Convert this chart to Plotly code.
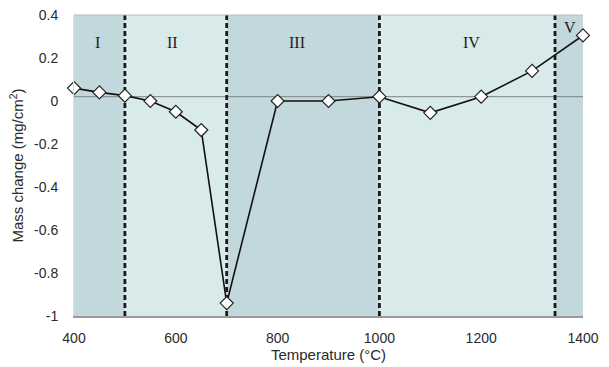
import plotly.graph_objects as go

# Measured mass change vs. temperature
temperature = [400, 450, 500, 550, 600, 650, 700, 800, 900, 1000, 1100, 1200, 1300, 1400]
mass_change = [0.06, 0.04, 0.025, 0.0, -0.05, -0.135, -0.94, 0.0, 0.0, 0.02, -0.055, 0.02, 0.14, 0.305]

# Stage boundaries and labels
stage_edges = [400, 500, 700, 1000, 1345, 1400]
stage_names = ["I", "II", "III", "IV", "V"]
stage_colors = ["#c2d8dc", "#d9eaeb", "#c2d8dc", "#d9eaeb", "#c2d8dc"]
stage_label_x = [447, 594, 838, 1180, 1374]
stage_label_y = [0.27, 0.27, 0.27, 0.27, 0.34]
boundaries = [500, 700, 1000, 1345]
reference_level = 0.02

fig = go.Figure()

shapes = []
for i, name in enumerate(stage_names):
    shapes.append(dict(type="rect", xref="x", yref="paper",
                       x0=stage_edges[i], x1=stage_edges[i + 1], y0=0, y1=1,
                       fillcolor=stage_colors[i], line_width=0, layer="below"))
shapes.append(dict(type="line", xref="paper", yref="y", x0=0, x1=1,
                   y0=reference_level, y1=reference_level,
                   line=dict(color="#7a8585", width=1), layer="below"))
for b in boundaries:
    shapes.append(dict(type="line", xref="x", yref="paper", x0=b, x1=b, y0=0, y1=1,
                       line=dict(color="#1a1a1a", width=2.8, dash="5px,3px"), layer="below"))
# top border
shapes.append(dict(type="line", xref="paper", yref="paper", x0=0, x1=1, y0=1, y1=1,
                   line=dict(color="#c8b8b8", width=1)))

fig.add_trace(go.Scatter(
    x=temperature, y=mass_change, mode="lines+markers",
    line=dict(color="#111111", width=1.6),
    marker=dict(symbol="diamond", size=10, color="white",
                line=dict(color="#222222", width=1.2)),
    cliponaxis=False, showlegend=False,
))

for name, lx, ly in zip(stage_names, stage_label_x, stage_label_y):
    fig.add_annotation(x=lx, y=ly, text=name, showarrow=False,
                       font=dict(family="Liberation Serif", size=16, color="#222222"))

fig.update_layout(
    width=609, height=367,
    margin=dict(l=74, r=26, t=15, b=51),
    paper_bgcolor="white", plot_bgcolor="white",
    shapes=shapes,
    font=dict(family="Liberation Sans, Arial", size=14, color="#2a2a2a"),
    xaxis=dict(range=[400, 1400], tickvals=[400, 600, 800, 1000, 1200, 1400],
               showgrid=False, zeroline=False, showline=True, linecolor="#9a9a9a",
               linewidth=2, ticks="", ticklabelstandoff=8, automargin=False,
               title=dict(text="Temperature (°C)", standoff=3, font=dict(size=15))),
    yaxis=dict(range=[-1, 0.4], tickvals=[0.4, 0.2, 0, -0.2, -0.4, -0.6, -0.8, -1],
               ticktext=["0.4", "0.2", "0", "-0.2", "-0.4", "-0.6", "-0.8", "-1"],
               showgrid=False, zeroline=False, showline=True, linecolor="#dddddd",
               linewidth=1, ticks="", ticklabelstandoff=12, automargin=False,
               title=dict(text="Mass change (mg/cm<sup>2</sup>)", standoff=6,
               font=dict(size=15))),
)

# drop the default page margin so the figure sits at the window corner
fig.write_html("out.html", config={"displayModeBar": False},
               post_script="document.body.style.margin='0';")
